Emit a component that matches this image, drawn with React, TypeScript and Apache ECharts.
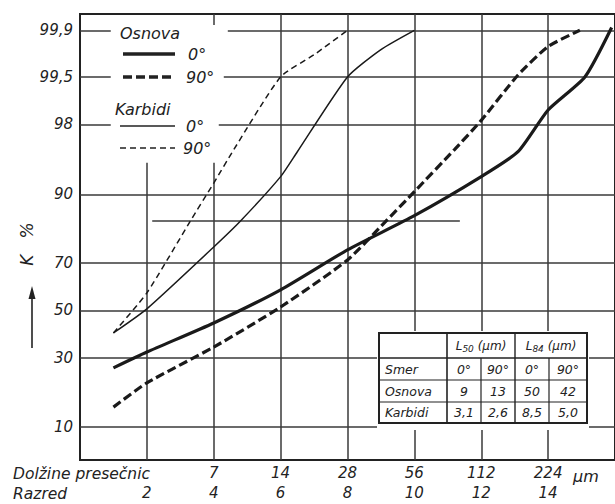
import React, { useEffect, useRef } from "react";
import * as echarts from "echarts";

// ---- data ----
const classes = [2, 4, 6, 8, 10, 12, 14];
const lengthLabels = ["", "7", "14", "28", "56", "112", "224"];
const razredLabels = ["2", "4", "6", "8", "10", "12", "14"];
const yTicks = [10, 30, 50, 70, 90, 98, 99.5, 99.9];
const yTickLabels = ["10", "30", "50", "70", "90", "98", "99,5", "99,9"];

const osnova0X = [1.0, 2.0, 4.0, 6.0, 8.0, 10.0, 12.0, 13.1, 14.0, 15.1, 15.9];
const osnova0Y = [26.3, 32.3, 44.5, 59, 74.8, 85.2, 93.0, 96.0, 98.65, 99.5, 99.91];
const osnova90X = [1.0, 2.0, 4.0, 6.0, 8.0, 9.1, 10.0, 11.2, 12.0, 13.1, 14.0, 14.95];
const osnova90Y = [14.3, 21.2, 34.3, 51.5, 71.1, 83.3, 90.5, 96.2, 98.2, 99.53, 99.82, 99.9];
const karbidi0X = [1.0, 2.0, 4.0, 4.8, 6.0, 6.5, 8.0, 9.0, 10.0];
const karbidi0Y = [40.2, 50.7, 75.8, 83.8, 93.0, 96.0, 99.5, 99.8, 99.9];
const karbidi90X = [1.0, 2.0, 3.3, 4.0, 4.6, 6.0, 7.0, 8.0];
const karbidi90Y = [40.2, 57.7, 83.8, 92.0, 96.2, 99.5, 99.76, 99.9];

const tableHeader = ["", "L50 (µm)", "L84 (µm)"];
const tableSmer = ["Smer", "0°", "90°", "0°", "90°"];
const tableOsnova = ["Osnova", "9", "13", "50", "42"];
const tableKarbidi = ["Karbidi", "3,1", "2,6", "8,5", "5,0"];

// inverse normal CDF (probability paper scale)
function probit(pct: number): number {
  const a = [-39.69683028665376, 220.9460984245205, -275.9285104469687, 138.357751867269, -30.66479806614716, 2.506628277459239];
  const b = [-54.47609879822406, 161.5858368580409, -155.6989798598866, 66.80131188771972, -13.28068155288572];
  const c = [-0.007784894002430293, -0.3223964580411365, -2.400758277161838, -2.549732539343734, 4.374664141464968, 2.938163982698783];
  const d = [0.007784695709041462, 0.3224671290700398, 2.445134137142996, 3.754408661907416];
  const p = pct / 100;
  const plow = 0.02425;
  if (p < plow) {
    const q = Math.sqrt(-2 * Math.log(p));
    return (((((c[0] * q + c[1]) * q + c[2]) * q + c[3]) * q + c[4]) * q + c[5]) / ((((d[0] * q + d[1]) * q + d[2]) * q + d[3]) * q + 1);
  }
  if (p <= 1 - plow) {
    const q = p - 0.5;
    const r = q * q;
    return ((((((a[0] * r + a[1]) * r + a[2]) * r + a[3]) * r + a[4]) * r + a[5]) * q) / (((((b[0] * r + b[1]) * r + b[2]) * r + b[3]) * r + b[4]) * r + 1);
  }
  const q = Math.sqrt(-2 * Math.log(1 - p));
  return -(((((c[0] * q + c[1]) * q + c[2]) * q + c[3]) * q + c[4]) * q + c[5]) / ((((d[0] * q + d[1]) * q + d[2]) * q + d[3]) * q + 1);
}

const FONT = "DejaVu Sans";
const INK = "#222";
const GRID = "#3a3a3a";

function pts(xs: number[], ys: number[]) {
  return xs.map((x, i) => [x, probit(ys[i])]);
}

export default function App() {
  const ref = useRef<HTMLDivElement>(null);
  useEffect(() => {
    if (!ref.current) return;
    const chart = echarts.init(ref.current, null, { renderer: "svg" });
    const Y_MIN = -1.65;
    const Y_MAX = 3.27;
    const X_MIN = 0;
    const X_MAX = 16;

    const lblStyle = (t: string) => ({
      show: true,
      formatter: t,
      position: "start",
      distance: 7,
      color: INK,
      fontFamily: FONT,
      fontStyle: "italic",
      fontSize: 15,
    });

    const hLines: any[] = [];
    yTicks.forEach((t, i) => {
      const z = probit(t);
      const label = lblStyle(yTickLabels[i]);
      if (t >= 98) {
        const resume = t === 99.9 ? 4.42 : t === 99.5 ? 4.3 : 4.15;
        hLines.push([{ coord: [X_MIN, z], label }, { coord: [0.92, z] }]);
        hLines.push([{ coord: [resume, z] }, { coord: [X_MAX, z] }]);
      } else {
        hLines.push([{ coord: [X_MIN, z], label }, { coord: [X_MAX, z] }]);
      }
    });
    // L84 reference line
    hLines.push([{ coord: [2.16, probit(84)] }, { coord: [11.36, probit(84)] }]);

    const vLines: any[] = [];
    classes.forEach((c) => {
      const top = c <= 4 ? 1.628 : Y_MAX;
      vLines.push([{ coord: [c, Y_MIN] }, { coord: [c, top] }]);
    });
    vLines.push([{ coord: [4, 3.15] }, { coord: [4, Y_MAX] }]);

    const txt = (x: number, y: number, text: string, size = 16, align = "left", extra: any = {}) => ({
      type: "text",
      x,
      y,
      z: 100,
      ...extra,
      style: {
        text,
        fill: INK,
        font: `italic ${size}px "${FONT}"`,
        align,
        verticalAlign: "middle",
      },
    });
    const seg = (x1: number, y1: number, x2: number, y2: number, w: number, dash?: number[]) => ({
      type: "line",
      z: 100,
      shape: { x1, y1, x2, y2 },
      style: { stroke: INK, lineWidth: w, lineDash: dash },
    });

    // table (annotation)
    const tx = [379, 447, 481, 515, 549, 587];
    const ty = [333, 358, 380, 402, 423];
    const tableEls: any[] = [];
    tableEls.push({ type: "rect", z: 99, shape: { x: 377, y: 331, width: 212, height: 99 }, style: { fill: "#fff" } });
    tableEls.push({ type: "rect", z: 100, shape: { x: tx[0], y: ty[0], width: tx[5] - tx[0], height: ty[4] - ty[0] }, style: { fill: "none", stroke: INK, lineWidth: 2 } });
    for (let r = 1; r < 4; r++) tableEls.push(seg(tx[0], ty[r], tx[5], ty[r], r === 1 ? 1.6 : 1.2));
    tableEls.push(seg(tx[1], ty[0], tx[1], ty[4], 1.6));
    tableEls.push(seg(tx[3], ty[0], tx[3], ty[4], 1.4));
    tableEls.push(seg(tx[2], ty[1], tx[2], ty[4], 1.2));
    tableEls.push(seg(tx[4], ty[1], tx[4], ty[4], 1.2));
    const headRich = (s: string) => {
      const m = s.match(/^L(\d+)(.*)$/);
      return m ? `L{sub|${m[1]}}${m[2]}` : s;
    };
    [1, 2].forEach((k) => {
      tableEls.push({
        type: "text",
        z: 100,
        x: (tx[2 * k - 1] + tx[2 * k + 1]) / 2,
        y: (ty[0] + ty[1]) / 2,
        style: {
          text: headRich(tableHeader[k]),
          fill: INK,
          font: `italic 12px "${FONT}"`,
          align: "center",
          verticalAlign: "middle",
          rich: { sub: { fontSize: 9, fontStyle: "italic", fontFamily: FONT, fill: INK, verticalAlign: "bottom", padding: [6, 0, 0, 0] } },
        },
      });
    });
    [tableSmer, tableOsnova, tableKarbidi].forEach((row, r) => {
      const cy = (ty[r + 1] + ty[r + 2]) / 2;
      row.forEach((cell, ci) => {
        if (ci === 0) tableEls.push(txt(tx[0] + 6, cy, cell, 12.5, "left"));
        else tableEls.push(txt((tx[ci] + tx[ci + 1]) / 2, cy, cell, 12.5, "center"));
      });
    });

    const option: any = {
      animation: false,
      backgroundColor: "#fff",
      grid: { left: 80, top: 14, width: 539, height: 446, show: true, borderColor: INK, borderWidth: 2, backgroundColor: "transparent" },
      xAxis: {
        type: "value",
        min: X_MIN,
        max: X_MAX,
        interval: 2,
        axisLine: { show: false },
        axisTick: { show: false },
        splitLine: { show: false },
        axisLabel: {
          margin: 3,
          showMaxLabel: false,
          showMinLabel: false,
          formatter: (v: number) => {
            const i = classes.indexOf(v);
            if (i < 0) return "";
            return `{a|${lengthLabels[i] || " "}}\n{b|${razredLabels[i]}}`;
          },
          rich: {
            a: { fontFamily: FONT, fontStyle: "italic", fontSize: 15, lineHeight: 20, color: INK },
            b: { fontFamily: FONT, fontStyle: "italic", fontSize: 15, lineHeight: 20, color: INK },
          },
        },
      },
      yAxis: {
        type: "value",
        min: Y_MIN,
        max: Y_MAX,
        axisLine: { show: false },
        axisTick: { show: false },
        axisLabel: { show: false },
        splitLine: { show: false },
      },
      series: [
        {
          type: "line",
          data: [[X_MIN, Y_MIN]],
          symbol: "none",
          lineStyle: { opacity: 0 },
          silent: true,
          z: 1,
          markLine: {
            silent: true,
            symbol: ["none", "none"],
            label: { show: false },
            lineStyle: { color: GRID, width: 1.5, type: "solid" },
            emphasis: { disabled: true },
            data: [...hLines, ...vLines],
          },
        },
        {
          type: "line",
          name: "Osnova 0°",
          data: pts(osnova0X, osnova0Y),
          symbol: "none",
          smooth: 0.2,
          lineStyle: { color: "#1a1a1a", width: 3.2, type: "solid" },
          z: 5,
        },
        {
          type: "line",
          name: "Osnova 90°",
          data: pts(osnova90X, osnova90Y),
          symbol: "none",
          smooth: 0.2,
          lineStyle: { color: "#1a1a1a", width: 3.2, type: [9, 4] },
          z: 5,
        },
        {
          type: "line",
          name: "Karbidi 0°",
          data: pts(karbidi0X, karbidi0Y),
          symbol: "none",
          smooth: 0.2,
          lineStyle: { color: "#1a1a1a", width: 1.5, type: "solid" },
          z: 5,
        },
        {
          type: "line",
          name: "Karbidi 90°",
          data: pts(karbidi90X, karbidi90Y),
          symbol: "none",
          smooth: 0.2,
          lineStyle: { color: "#1a1a1a", width: 1.5, type: [6, 4] },
          z: 5,
        },
      ],
      graphic: [
        // legend
        txt(120, 33, "Osnova", 16),
        seg(123, 54, 175, 54, 3.5),
        txt(188, 54, "0°", 16),
        seg(123, 77, 175, 77, 3.5, [9, 4]),
        txt(186, 77, "90°", 16),
        txt(115, 109, "Karbidi", 16),
        seg(120, 126, 175, 126, 1.5),
        txt(186, 126, "0°", 16),
        seg(120, 148, 175, 148, 1.5, [6, 4]),
        txt(183, 148, "90°", 16),
        // y axis title and arrow
        txt(27, 244, "K   %", 17, "center", { rotation: Math.PI / 2 }),
        seg(32, 348, 32, 296, 1.6),
        { type: "polygon", z: 100, shape: { points: [[32, 286], [28.5, 299], [35.5, 299]] }, style: { fill: INK } },
        // x axis row titles
        txt(13, 474, "Dolžine presečnic", 15.5),
        txt(13, 494, "Razred", 15.5),
        txt(573, 476, "µm", 16),
        ...tableEls,
      ],
    };
    chart.setOption(option);
    return () => chart.dispose();
  }, []);
  return <div ref={ref} style={{ position: "fixed", left: 0, top: 0, width: 615, height: 504, background: "#fff" }} />;
}
